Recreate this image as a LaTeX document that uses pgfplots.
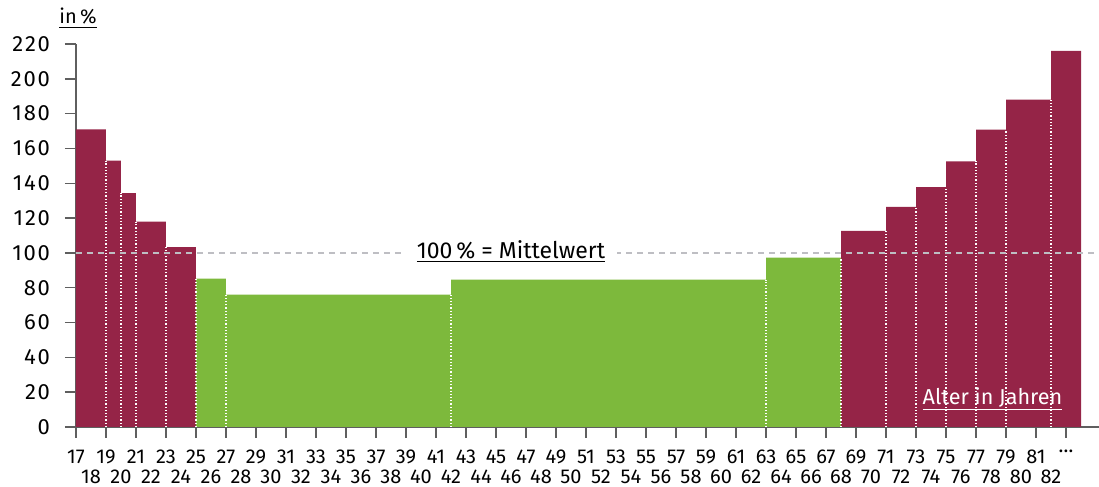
\documentclass[border=0pt]{standalone}
\usepackage{fontspec}
\setmainfont{Fira Sans}
\usepackage{pgfplots}
\pgfplotsset{compat=1.18}
\definecolor{maroon}{RGB}{149,36,71}
\definecolor{lgreen}{RGB}{125,185,60}
\definecolor{axgray}{RGB}{95,95,95}
\definecolor{dashgray}{RGB}{190,190,195}
\begin{document}
\begin{tikzpicture}
\begin{axis}[name=ax, at={(0,0)}, anchor=south west,
  scale only axis, width=511.5pt, height=191.5pt,
  xmin=17, xmax=85.2, ymin=0, ymax=220,
  axis x line*=bottom, axis y line*=left,
  axis line style={axgray, line width=0.7pt},
  tick align=outside, major tick length=5.5pt,
  tick style={axgray, line width=0.7pt},
  /pgf/number format/assume math mode=true,
  xtick={17,19,...,83},
  xticklabels={17,19,21,23,25,27,29,31,33,35,37,39,41,43,45,47,49,51,53,55,57,59,61,63,65,67,69,71,73,75,77,79,81,{\ldots}},
  extra x ticks={18,20,...,82},
  extra x tick style={major tick length=0pt, tick label style={yshift=-15.8pt}},
  x tick label style={font=\fontsize{10}{11}\selectfont, yshift=-2.3pt},
  ytick={0,20,...,220},
  y tick label style={font=\fontsize{11}{12}\selectfont\addfontfeatures{LetterSpace=8}, xshift=-4pt},
  clip=false,
]
\addplot[ybar interval, fill=maroon, draw=none] coordinates {(17,171) (19,153) (20,134.4) (21,117.9) (23,103.3) (25,0)};
\addplot[ybar interval, fill=lgreen, draw=none] coordinates {(25,85.2) (27,76) (42,84.6) (63,97.3) (68,0)};
\addplot[ybar interval, fill=maroon, draw=none] coordinates {(68,112.7) (71,126.5) (73,137.8) (75,152.6) (77,170.8) (79,188.1) (82,216) (84,0)};
\addplot[white, densely dotted, line width=0.6pt, ycomb, mark=none] coordinates {(19,153) (20,134.4) (21,117.9) (23,103.3) (25,85.2) (27,76) (42,76) (63,84.6) (68,97.3) (71,112.7) (73,126.5) (75,137.8) (77,152.6) (79,170.8) (82,188.1)};
\addplot[dashgray, line width=1pt, dash pattern=on 3pt off 2.5pt, mark=none] coordinates {(17,100) (85.2,100)};
\node[fill=white, inner xsep=6pt, inner ysep=2pt, font=\fontsize{11.5}{12}\selectfont] at (axis cs:46,100.8) {\underline{100\,\% = Mittelwert}};
\node[text=white, font=\fontsize{10.8}{12}\selectfont] at (axis cs:78.1,16) {\underline{Alter in Jahren}};
\end{axis}
\node[font=\fontsize{10}{12}\selectfont] at ([xshift=1pt,yshift=13pt]ax.north west) {\underline{in\,\%}};
\pgfresetboundingbox
\path ([xshift=-38pt,yshift=-30pt]ax.south west) rectangle ([yshift=22pt]ax.north east);
\end{tikzpicture}
\end{document}
